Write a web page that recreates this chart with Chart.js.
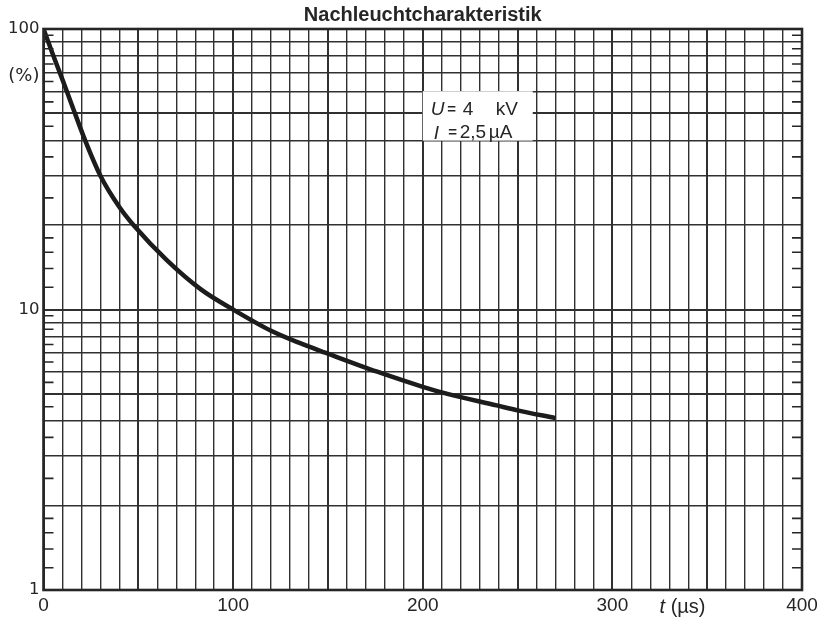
<!DOCTYPE html>
<html>
<head>
<meta charset="utf-8">
<script src="https://cdn.jsdelivr.net/npm/chart.js@4.4.1/dist/chart.umd.min.js"></script>
<style>
  body { margin: 0; background: #fff; }
  canvas { display: block; }
</style>
</head>
<body>
<canvas id="chart" width="827" height="625"></canvas>
<script>
// Nachleuchtcharakteristik, values
const times = [0, 5, 10, 15, 22, 30, 40, 48, 65, 83, 100, 120, 135, 149, 176, 200, 213, 239, 250, 270];
const afterglow = [100, 81, 66, 53.5, 40, 30, 23.2, 19.8, 15, 11.8, 10, 8.4, 7.6, 7, 6, 5.3, 5, 4.55, 4.37, 4.1];

const yGridValues = [1, 2, 3, 4, 5, 6, 7, 8, 9, 10, 20, 30, 40, 50, 60, 70, 80, 90, 100];
const yLabels = [1, 10, 100];
const yMinorTicks = [1.2, 1.4, 1.6, 1.8, 2.5, 3.5, 4.5, 5.5, 6.5, 7.5, 8.5, 9.5,
  12, 14, 16, 18, 25, 35, 45, 55, 65, 75, 85, 95];
const xLabels = [0, 100, 200, 300, 400];

// parameter box (data coordinates)
const boxX = [200, 258];
const boxY = [40, 60];

const ink = "#262626";
const sans = "'Liberation Sans', Arial, sans-serif";
const wide = "'DejaVu Sans', sans-serif";

const paperPlugin = {
  id: "paper",
  beforeDatasetsDraw(chart) {
    const { ctx, scales: { x, y } } = chart;
    // white box behind the parameter text
    const left = x.getPixelForValue(boxX[0]);
    const right = x.getPixelForValue(boxX[1]);
    const top = y.getPixelForValue(boxY[1]);
    const bottom = y.getPixelForValue(boxY[0]);
    ctx.save();
    ctx.fillStyle = "#fff";
    ctx.fillRect(left, top, right - left, bottom - top);

    ctx.fillStyle = ink;
    ctx.textBaseline = "middle";
    const y1 = y.getPixelForValue(51.5);
    const y2 = y.getPixelForValue(42.5);
    ctx.textAlign = "left";
    ctx.font = "italic 19px " + sans;
    ctx.fillText("U", left + 8, y1);
    ctx.fillText("I", left + 11, y2);
    ctx.font = "19px " + sans;
    ctx.fillText("4", left + 40, y1);
    ctx.fillText("kV", left + 73, y1);
    ctx.fillText("2,5", left + 37, y2);
    ctx.fillText("µA", left + 66, y2);
    ctx.textAlign = "center";
    ctx.font = "bold 15px " + sans;
    ctx.fillText("=", left + 29, y1);
    ctx.fillText("=", left + 30, y2);
    ctx.restore();
  },
  afterDraw(chart) {
    const { ctx, chartArea: a, scales: { x, y } } = chart;
    ctx.save();
    // minor ticks on left and right frame
    ctx.strokeStyle = ink;
    ctx.lineWidth = 1.6;
    yMinorTicks.forEach((v) => {
      const py = y.getPixelForValue(v);
      ctx.beginPath();
      ctx.moveTo(a.left, py);
      ctx.lineTo(a.left + 10, py);
      ctx.moveTo(a.right, py);
      ctx.lineTo(a.right - 10, py);
      ctx.stroke();
    });
    // frame
    ctx.lineWidth = 2.6;
    ctx.strokeRect(a.left, a.top, a.right - a.left, a.bottom - a.top);

    // title
    ctx.fillStyle = ink;
    ctx.textAlign = "center";
    ctx.textBaseline = "middle";
    ctx.font = "bold 20px " + sans;
    ctx.fillText("Nachleuchtcharakteristik", x.getPixelForValue(200), 15);

    // unit of y axis
    ctx.textAlign = "right";
    ctx.font = "18px " + wide;
    ctx.fillText("(%)", a.left - 4, y.getPixelForValue(68));

    // x axis title
    const px = x.getPixelForValue(337);
    const py = a.bottom + 17;
    ctx.textAlign = "left";
    ctx.font = "italic 20px " + sans;
    const w1 = ctx.measureText("t ").width;
    ctx.font = "20px " + sans;
    const w2 = ctx.measureText("(µs)").width;
    const start = px - (w1 + w2) / 2;
    ctx.font = "italic 20px " + sans;
    ctx.fillText("t ", start, py);
    ctx.font = "20px " + sans;
    ctx.fillText("(µs)", start + w1, py);
    ctx.restore();
  },
};

new Chart(document.getElementById("chart"), {
  type: "line",
  data: {
    datasets: [{
      data: times.map((t, i) => ({ x: t, y: afterglow[i] })),
      borderColor: "#1c1c1c",
      borderWidth: 4.5,
      pointRadius: 0,
      cubicInterpolationMode: "monotone",
      fill: false,
    }],
  },
  options: {
    responsive: false,
    animation: false,
    layout: { padding: { top: 29, right: 25, left: 0, bottom: 0 } },
    plugins: { legend: { display: false }, tooltip: { enabled: false } },
    scales: {
      x: {
        type: "linear",
        min: 0,
        max: 400,
        afterFit(scale) { scale.height = 35; },
        ticks: {
          stepSize: 10,
          autoSkip: false,
          maxRotation: 0,
          padding: 4,
          color: ink,
          font: { family: sans, size: 19 },
          callback: (v) => (xLabels.includes(v) ? String(v) : ""),
        },
        grid: {
          drawTicks: false,
          color: "#303030",
          lineWidth: (c) => (c.tick && c.tick.value % 50 === 0 ? 2 : 1.4),
        },
        border: { display: false },
      },
      y: {
        type: "logarithmic",
        min: 1,
        max: 100,
        afterFit(scale) { scale.width = 43.5; },
        afterBuildTicks(scale) {
          scale.ticks = yGridValues.map((v) => ({ value: v }));
        },
        ticks: {
          autoSkip: false,
          padding: 4,
          color: ink,
          font: { family: wide, size: 16.5 },
          callback: (v) => (yLabels.includes(v) ? String(v) : ""),
        },
        grid: {
          drawTicks: false,
          color: "#303030",
          lineWidth: (c) => (c.tick && (c.tick.value === 10 || c.tick.value === 5 || c.tick.value === 50) ? 2 : 1.4),
        },
        border: { display: false },
      },
    },
  },
  plugins: [paperPlugin],
});
</script>
</body>
</html>
